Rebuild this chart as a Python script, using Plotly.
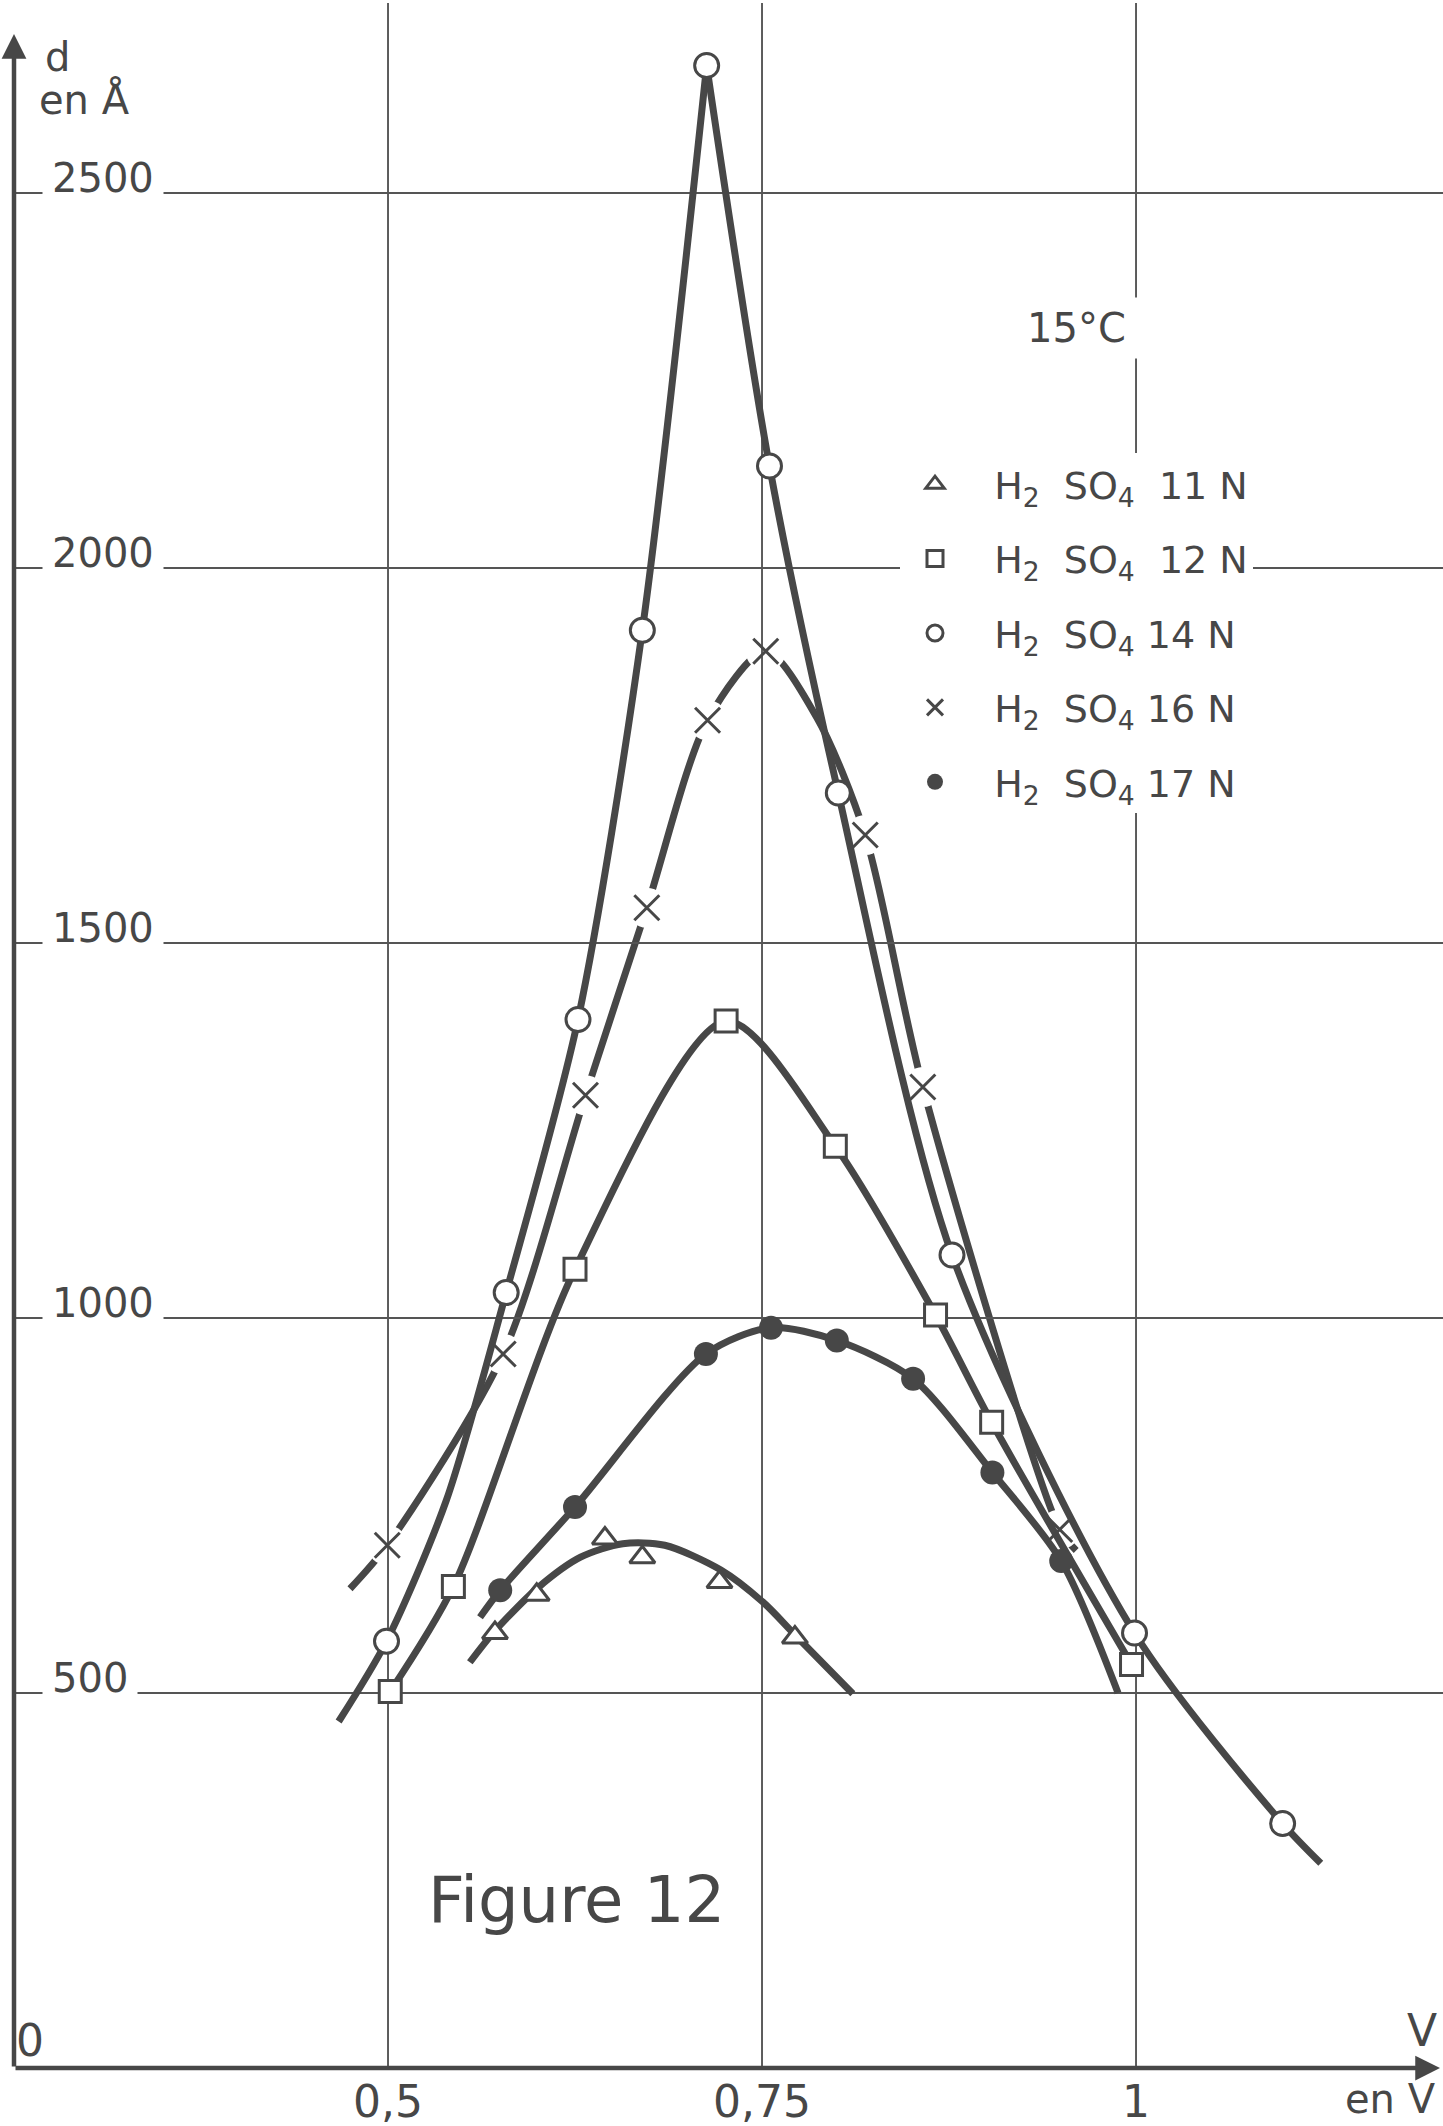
import plotly.graph_objects as go

# ---------------- data ----------------
x_ticks = [0.5, 0.75, 1.0]
x_tick_labels = ["0,5", "0,75", "1"]
y_ticks = [500, 1000, 1500, 2000, 2500]
y_tick_labels = ["500", "1000", "1500", "2000", "2500"]

# H2SO4 11 N (triangles)
v11 = [0.5715, 0.5994, 0.645, 0.670, 0.7216, 0.772]
d11 = [580, 631, 706, 681, 648, 574]
v11_curve = [0.5547, 0.5715, 0.6006, 0.6287, 0.6569, 0.685, 0.7225, 0.7507, 0.7723, 0.8107]
d11_curve = [541, 583, 641, 681, 699, 697, 664, 621, 577, 499]

# H2SO4 12 N (squares)
v12 = [0.5015, 0.5437, 0.625, 0.726, 0.799, 0.866, 0.9035, 0.997]
d12 = [502, 642, 1065, 1396, 1229, 1004, 861, 538]
v12_curve = [0.5015, 0.5437, 0.625, 0.726, 0.799, 0.866, 0.9035, 0.997]
d12_curve = [502, 642, 1065, 1396, 1229, 1004, 861, 538]

# H2SO4 14 N (open circles)
v14 = [0.499, 0.579, 0.627, 0.670, 0.713, 0.755, 0.801, 0.877, 0.999, 1.098]
d14 = [569, 1034, 1398, 1917, 2670, 2136, 1700, 1084, 580, 326]
v14_curve = [0.467, 0.499, 0.539, 0.579, 0.627, 0.670, 0.713, 0.755, 0.801, 0.877, 0.999, 1.098, 1.1235]
d14_curve = [462, 569, 757, 1034, 1398, 1917, 2670, 2136, 1700, 1084, 580, 326, 273]

# H2SO4 16 N (crosses)
v16 = [0.4995, 0.577, 0.632, 0.673, 0.7136, 0.7525, 0.819, 0.8575, 0.949]
d16 = [697, 952, 1297, 1547, 1797, 1889, 1644, 1308, 718]
v16_curve = [0.4746, 0.4995, 0.577, 0.632, 0.673, 0.7136, 0.7525, 0.7865, 0.819, 0.8575, 0.949, 0.960]
d16_curve = [639, 697, 952, 1297, 1547, 1797, 1889, 1801, 1644, 1308, 718, 690]

# H2SO4 17 N (filled circles)
v17 = [0.575, 0.625, 0.7125, 0.756, 0.800, 0.851, 0.904, 0.950]
d17 = [637, 748, 952, 987, 970, 919, 794, 676]
v17_curve = [0.5615, 0.575, 0.625, 0.7125, 0.756, 0.800, 0.851, 0.904, 0.950, 0.988]
d17_curve = [601, 637, 748, 952, 987, 970, 919, 794, 676, 500]

NB = "\u00a0"
names = {
    "11": NB * 2 + "H<sub>2</sub>" + NB * 2 + "SO<sub>4</sub>" + NB * 2 + "11" + NB + "N",
    "12": NB * 2 + "H<sub>2</sub>" + NB * 2 + "SO<sub>4</sub>" + NB * 2 + "12" + NB + "N",
    "14": NB * 2 + "H<sub>2</sub>" + NB * 2 + "SO<sub>4</sub>" + NB + "14" + NB + "N",
    "16": NB * 2 + "H<sub>2</sub>" + NB * 2 + "SO<sub>4</sub>" + NB + "16" + NB + "N",
    "17": NB * 2 + "H<sub>2</sub>" + NB * 2 + "SO<sub>4</sub>" + NB + "17" + NB + "N",
}

# ---------------- layout / style ----------------
W, H = 1443, 2126
ML, MR, MT, MB = 14, 0, 3, 58
X_RANGE = [0.25, 1.2052]
Y_RANGE = [0, 2753.3]
X_ARROW_TIP = 1.2032
Y_ARROW_TIP = 2712

INK = "#474747"
GRID = "#555555"
FONT = "DejaVu Sans"
LW = 7
SMOOTH = 0.8


def px(x):
    return (x - ML) / (W - ML - MR)


def py(y):
    return (H - MB - y) / (H - MT - MB)


def curve(xs, ys):
    return go.Scatter(x=xs, y=ys, mode="lines",
                      line=dict(color=INK, width=LW, shape="spline", smoothing=SMOOTH),
                      showlegend=False, hoverinfo="skip")


fig = go.Figure()

# 16 N curve (interrupted around its markers)
fig.add_trace(curve(v16_curve, d16_curve))
fig.add_trace(go.Scatter(x=v16, y=d16, mode="markers",
                         marker=dict(symbol="circle", size=40, color="white", line=dict(width=0)),
                         showlegend=False, hoverinfo="skip"))

# grid lines built from the tick values
gx, gy = [], []
for t in x_ticks:
    gx += [t, t, None]
    gy += [Y_RANGE[0], Y_RANGE[1], None]
hx, hy = [], []
for t in y_ticks:
    hx += [X_RANGE[0], X_RANGE[1], None]
    hy += [t, t, None]
fig.add_trace(go.Scatter(x=gx, y=gy, mode="lines", line=dict(color=GRID, width=1.9),
                         showlegend=False, hoverinfo="skip"))
fig.add_trace(go.Scatter(x=hx, y=hy, mode="lines", line=dict(color=GRID, width=1.9),
                         showlegend=False, hoverinfo="skip"))

# other curves
fig.add_trace(curve(v11_curve, d11_curve))
fig.add_trace(curve(v12_curve, d12_curve))
ipk = d14_curve.index(max(d14_curve))
fig.add_trace(curve(v14_curve[:ipk + 1], d14_curve[:ipk + 1]))
fig.add_trace(curve(v14_curve[ipk:], d14_curve[ipk:]))
fig.add_trace(curve(v17_curve, d17_curve))

# markers (legend entries)
mk = [
    ("11", v11, d11, dict(symbol="triangle-up", size=22, color="white", line=dict(color=INK, width=3))),
    ("12", v12, d12, dict(symbol="square", size=22, color="white", line=dict(color=INK, width=3))),
    ("14", v14, d14, dict(symbol="circle", size=24, color="white", line=dict(color=INK, width=3))),
    ("16", v16, d16, dict(symbol="x-thin", size=25, color=INK, line=dict(color=INK, width=3))),
    ("17", v17, d17, dict(symbol="circle", size=24, color=INK, line=dict(color=INK, width=0))),
]
for key, xs, ys, m in mk:
    fig.add_trace(go.Scatter(x=xs, y=ys, mode="markers", marker=m, name=names[key],
                             legendgroup=key, hoverinfo="skip"))

ann = []
# axes drawn as arrows
ann.append(dict(x=X_RANGE[0], y=Y_ARROW_TIP, ax=X_RANGE[0], ay=Y_RANGE[0], xref="x", yref="y",
                axref="x", ayref="y", text="", showarrow=True, arrowhead=2, arrowsize=1.1,
                arrowwidth=4.5, arrowcolor=INK))
ann.append(dict(x=X_ARROW_TIP, y=Y_RANGE[0], ax=X_RANGE[0], ay=Y_RANGE[0], xref="x", yref="y",
                axref="x", ayref="y", text="", showarrow=True, arrowhead=2, arrowsize=1.1,
                arrowwidth=4.5, arrowcolor=INK))

# y tick labels sitting on their grid lines (white patch breaks the line)
for t, lab in zip(y_ticks, y_tick_labels):
    ann.append(dict(x=X_RANGE[0], y=t, xref="x", yref="y", text=lab, showarrow=False,
                    xanchor="left", yanchor="middle", xshift=28, yshift=15,
                    bgcolor="white", borderpad=9,
                    font=dict(family=FONT, size=40, color=INK)))

texts = [
    ("0", 30, 2040, 44, "center"),
    ("d", 57, 57, 40, "center"),
    ("en Å", 84, 100, 40, "center"),
    ("V", 1422, 2030, 44, "center"),
    ("en V", 1390, 2099, 40, "center"),
    ("Figure 12", 576, 1900, 64, "center"),
]
for t, x, y, s, a in texts:
    ann.append(dict(x=px(x), y=py(y), xref="paper", yref="paper", text=t, showarrow=False,
                    xanchor=a, yanchor="middle", font=dict(family=FONT, size=s, color=INK)))

ann.append(dict(x=px(1026), y=py(328), xref="paper", yref="paper", text="15°C", showarrow=False,
                xanchor="left", yanchor="middle", width=120, height=60, align="left",
                bgcolor="white", borderpad=0, font=dict(family=FONT, size=40, color=INK)))

fig.update_layout(
    width=W, height=H,
    margin=dict(l=ML, r=MR, t=MT, b=MB),
    paper_bgcolor="white", plot_bgcolor="white",
    font=dict(family=FONT, color=INK),
    xaxis=dict(range=X_RANGE, showgrid=False, zeroline=False, showline=False,
               tickvals=x_ticks, ticktext=x_tick_labels, ticks="",
               tickfont=dict(family=FONT, size=44, color=INK), ticklabelstandoff=4),
    yaxis=dict(range=Y_RANGE, showgrid=False, zeroline=False, showline=False,
               showticklabels=False, ticks=""),
    legend=dict(x=px(900), y=py(453), xanchor="left", yanchor="top",
                bgcolor="white", borderwidth=0, traceorder="grouped",
                tracegroupgap=22, itemwidth=60,
                font=dict(family=FONT, size=38, color=INK),
                itemsizing="trace"),
    annotations=ann,
    showlegend=True,
)

fig.write_html("out.html")
